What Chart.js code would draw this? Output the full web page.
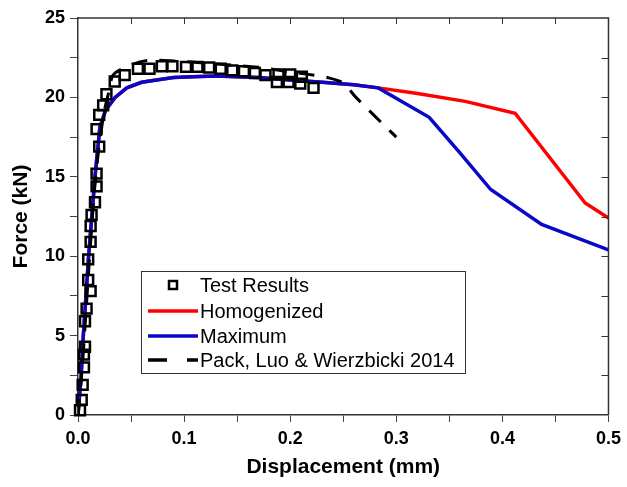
<!DOCTYPE html>
<html>
<head>
<meta charset="utf-8">
<script src="https://cdn.jsdelivr.net/npm/chart.js@4.4.1/dist/chart.umd.min.js"></script>
<style>
  body { margin: 0; background: #fff; }
  #chart { display: block; }
</style>
</head>
<body>
<canvas id="chart" width="627" height="487"></canvas>
<script>
// Test Results (squares)
const testX = [0.0019, 0.0035, 0.0044, 0.0056, 0.0056, 0.0066, 0.0066, 0.0081, 0.0119, 0.0096, 0.0096, 0.0119, 0.0119, 0.0128, 0.016, 0.0175, 0.0175, 0.02, 0.0175, 0.02, 0.0237, 0.0268, 0.0346, 0.044, 0.0565, 0.0674, 0.079, 0.089, 0.1018, 0.1126, 0.1236, 0.1345, 0.1454, 0.1564, 0.1667, 0.1767, 0.189, 0.2, 0.211, 0.1875, 0.1985, 0.2095, 0.222];
const testY = [0.3, 0.95, 1.9, 3.0, 3.8, 4.3, 5.9, 6.7, 7.8, 8.5, 9.8, 10.9, 11.9, 12.6, 13.4, 14.4, 15.2, 16.9, 18.0, 18.9, 19.5, 20.2, 21.0, 21.4, 21.8, 21.8, 21.96, 21.96, 21.92, 21.92, 21.88, 21.8, 21.7, 21.65, 21.54, 21.4, 21.45, 21.45, 21.3, 20.97, 20.97, 20.87, 20.6];

// Homogenized (red)
const homX = [0, 0.003, 0.005, 0.0075, 0.01, 0.013, 0.016, 0.0206, 0.026, 0.035, 0.046, 0.06, 0.074, 0.09, 0.108, 0.13, 0.15, 0.17, 0.2, 0.23, 0.26, 0.283, 0.32, 0.365, 0.412, 0.478, 0.5];
const homY = [0, 2.5, 5, 7.5, 10, 12.5, 15, 18.1, 19.2, 20.0, 20.6, 20.95, 21.1, 21.25, 21.3, 21.35, 21.3, 21.25, 21.1, 20.95, 20.8, 20.6, 20.25, 19.75, 19.0, 13.35, 12.4];

// Maximum (blue)
const maxX = [0, 0.003, 0.005, 0.0075, 0.01, 0.013, 0.016, 0.0206, 0.026, 0.035, 0.046, 0.06, 0.074, 0.09, 0.108, 0.13, 0.15, 0.17, 0.2, 0.23, 0.26, 0.283, 0.331, 0.36, 0.389, 0.437, 0.5];
const maxY = [0, 2.5, 5, 7.5, 10, 12.5, 15, 18.1, 19.2, 20.0, 20.6, 20.95, 21.1, 21.25, 21.3, 21.35, 21.3, 21.25, 21.1, 20.95, 20.8, 20.6, 18.75, 16.5, 14.2, 12.0, 10.4];

// Pack, Luo & Wierzbicki 2014 (black dashed)
const packX = [0, 0.004, 0.008, 0.012, 0.016, 0.02, 0.025, 0.03, 0.033, 0.045, 0.063, 0.09, 0.13, 0.17, 0.2, 0.217, 0.235, 0.25, 0.262, 0.3];
const packY = [0, 3, 7, 11, 14.5, 17, 19.2, 20.6, 21.4, 21.9, 22.3, 22.3, 22.1, 21.9, 21.6, 21.45, 21.25, 20.9, 20.0, 17.5];

const xTicks = [0, 0.1, 0.2, 0.3, 0.4, 0.5];
const yTicks = [0, 5, 10, 15, 20, 25];

const toPoints = (xs, ys) => xs.map((x, i) => ({ x: x, y: ys[i] }));

// frame on top/right with inward ticks
const framePlugin = {
    id: 'frame',
    afterDraw(chart) {
        const { ctx, chartArea: a, scales } = chart;
        ctx.save();
        ctx.strokeStyle = '#333';
        ctx.lineWidth = 1.5;
        ctx.beginPath();
        ctx.moveTo(a.left, a.top);
        ctx.lineTo(a.right, a.top);
        ctx.lineTo(a.right, a.bottom);
        ctx.stroke();
        ctx.lineWidth = 1;
        ctx.beginPath();
        for (let v = 0.05; v < 0.5; v += 0.05) {
            const px = Math.round(scales.x.getPixelForValue(v)) + 0.5;
            ctx.moveTo(px, a.top);
            ctx.lineTo(px, a.top + 6);
        }
        for (let v = 2.5; v < 25; v += 2.5) {
            const py = Math.round(scales.y.getPixelForValue(v)) + 0.5;
            ctx.moveTo(a.right, py);
            ctx.lineTo(a.right - 7, py);
        }
        ctx.stroke();
        ctx.restore();
    }
};

// legend box inside the plot
const legendPlugin = {
    id: 'boxLegend',
    afterDraw(chart) {
        const ctx = chart.ctx;
        const ds = chart.data.datasets;
        const rows = [ds[0], ds[3], ds[2], ds[1]];
        ctx.save();
        ctx.fillStyle = '#fff';
        ctx.fillRect(141, 271, 324, 102);
        ctx.strokeStyle = '#333';
        ctx.lineWidth = 1;
        ctx.strokeRect(141.5, 271.5, 324, 102);
        ctx.font = '20px "Liberation Sans", Arial, sans-serif';
        ctx.textBaseline = 'middle';
        ctx.fillStyle = '#000';
        const rowY = [285, 311, 336, 360];
        rows.forEach((d, i) => {
            const y = rowY[i];
            if (d.showLine) {
                ctx.strokeStyle = d.borderColor;
                ctx.lineWidth = 3.5;
                ctx.setLineDash(d.borderDash ? [19, 20] : []);
                ctx.beginPath();
                ctx.moveTo(148, y);
                ctx.lineTo(198, y);
                ctx.stroke();
                ctx.setLineDash([]);
            } else {
                ctx.strokeStyle = '#000';
                ctx.lineWidth = 2.5;
                ctx.strokeRect(169, y - 4, 8, 8);
            }
            ctx.fillText(d.label, 200, y + 1);
        });
        ctx.restore();
    }
};

new Chart(document.getElementById('chart'), {
    type: 'scatter',
    data: {
        datasets: [{
            label: 'Test Results',
            data: toPoints(testX, testY),
            showLine: false,
            pointStyle: 'rect',
            pointRadius: 7,
            pointBorderWidth: 2.5,
            pointBorderColor: '#000',
            pointBackgroundColor: 'rgba(0,0,0,0)',
            clip: false
        }, {
            label: 'Pack, Luo & Wierzbicki 2014',
            data: toPoints(packX, packY),
            showLine: true,
            borderColor: '#000',
            borderWidth: 3,
            borderDash: [16, 12],
            pointRadius: 0,
            tension: 0.3
        }, {
            label: 'Maximum',
            data: toPoints(maxX, maxY),
            showLine: true,
            borderColor: '#0808c8',
            borderWidth: 3.5,
            pointRadius: 0
        }, {
            label: 'Homogenized',
            data: toPoints(homX, homY),
            showLine: true,
            borderColor: '#ff0000',
            borderWidth: 3.5,
            pointRadius: 0
        }]
    },
    options: {
        responsive: false,
        animation: false,
        layout: { padding: { top: 18, right: 15, left: 0, bottom: 0 } },
        plugins: {
            legend: { display: false },
            tooltip: { enabled: false }
        },
        scales: {
            x: {
                type: 'linear',
                min: 0,
                max: 0.5,
                afterFit: s => { s.height = 72; },
                afterBuildTicks: s => {
                    s.ticks = [];
                    for (let i = 0; i <= 10; i++) s.ticks.push({ value: i * 0.05 });
                },
                grid: { drawOnChartArea: false, drawTicks: true, tickLength: 7, color: '#444', tickWidth: 1 },
                border: { display: true, color: '#333', width: 1.5 },
                ticks: {
                    color: '#000',
                    padding: 6,
                    maxRotation: 0,
                    font: { family: '"Liberation Sans", Arial, sans-serif', size: 18, weight: 'bold' },
                    callback: function (value) {
                        const hit = xTicks.find(t => Math.abs(t - value) < 1e-6);
                        return hit === undefined ? '' : hit.toFixed(1);
                    }
                },
                title: {
                    display: true,
                    text: 'Displacement (mm)',
                    color: '#000',
                    padding: { top: 0, bottom: 7 },
                    font: { family: '"Liberation Sans", Arial, sans-serif', size: 21, weight: 'bold' }
                }
            },
            y: {
                type: 'linear',
                min: 0,
                max: 25,
                afterFit: s => { s.width = 78; },
                afterBuildTicks: s => {
                    s.ticks = [];
                    for (let i = 0; i <= 10; i++) s.ticks.push({ value: i * 2.5 });
                },
                grid: { drawOnChartArea: false, drawTicks: true, tickLength: 8, color: '#444', tickWidth: 1 },
                border: { display: true, color: '#333', width: 1.5 },
                ticks: {
                    color: '#000',
                    padding: 5,
                    font: { family: '"Liberation Sans", Arial, sans-serif', size: 18, weight: 'bold' },
                    callback: function (value) {
                        const hit = yTicks.find(t => Math.abs(t - value) < 1e-6);
                        return hit === undefined ? '' : String(hit);
                    }
                },
                title: {
                    display: true,
                    text: 'Force (kN)',
                    color: '#000',
                    padding: { top: 9, bottom: 0 },
                    font: { family: '"Liberation Sans", Arial, sans-serif', size: 21, weight: 'bold' }
                }
            }
        }
    },
    plugins: [framePlugin, legendPlugin]
});
</script>
</body>
</html>
